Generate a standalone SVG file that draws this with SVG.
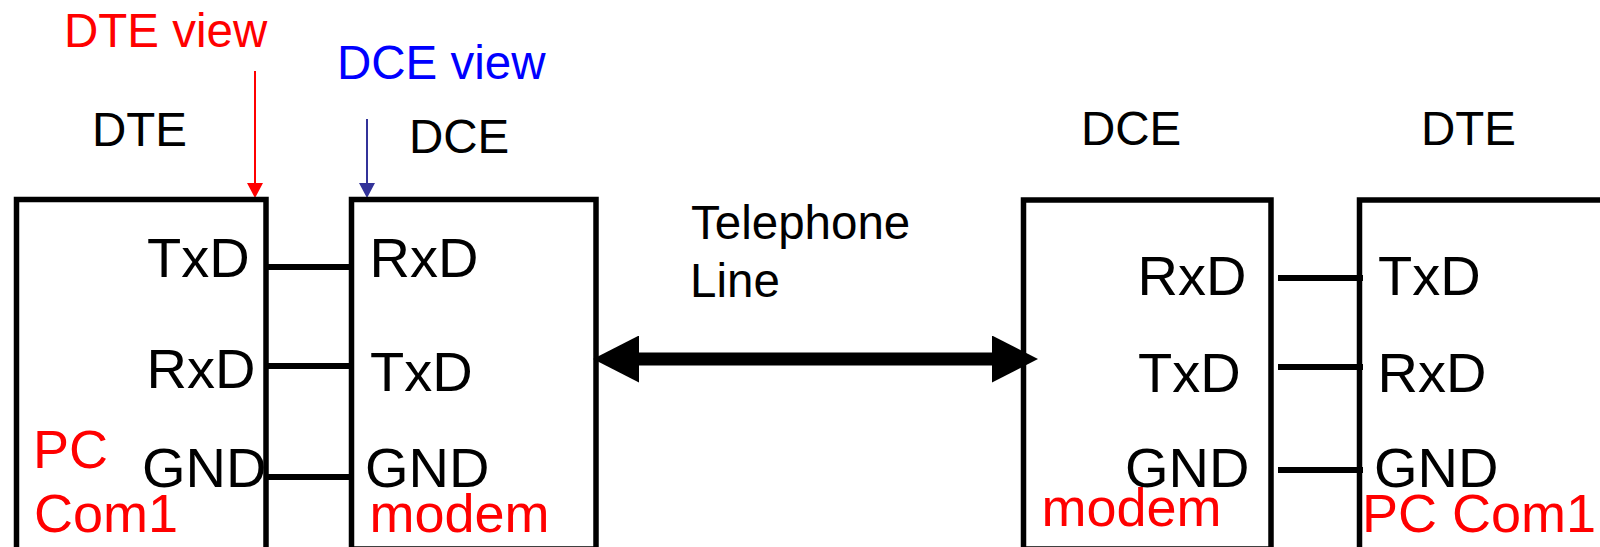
<svg xmlns="http://www.w3.org/2000/svg" width="1600" height="547" viewBox="0 0 1600 547">
  <style>
    text { font-family: "Liberation Sans", Arial, sans-serif; }
    .head { font-size: 47.5px; fill: #000; }
    .pin { font-size: 56px; fill: #000; }
    .dev { font-size: 54px; fill: #ff0000; }
    .box { fill: none; stroke: #000; stroke-width: 5.5; }
    .wire { stroke: #000; stroke-width: 6; }
  </style>
  <defs>
    <marker id="bigHead" viewBox="0 0 46 47" refX="26" refY="23.5" markerWidth="46" markerHeight="47" markerUnits="userSpaceOnUse" orient="auto-start-reverse">
      <path d="M0,0 L46,23.5 L0,47 Z" fill="#000"/>
    </marker>
    <marker id="redHead" viewBox="0 0 15 16" refX="3" refY="8" markerWidth="15" markerHeight="16" markerUnits="userSpaceOnUse" orient="auto">
      <path d="M0,0 L15,8 L0,16 Z" fill="#ff0000"/>
    </marker>
    <marker id="blueHead" viewBox="0 0 15 16" refX="3" refY="8" markerWidth="15" markerHeight="16" markerUnits="userSpaceOnUse" orient="auto">
      <path d="M0,0 L15,8 L0,16 Z" fill="#333399"/>
    </marker>
  </defs>

  <!-- view annotations -->
  <g id="dte-view">
    <text x="64" y="47" font-size="47.5" fill="#ff0000">DTE view</text>
    <line x1="255" y1="71" x2="255" y2="186" stroke="#ff0000" stroke-width="2" marker-end="url(#redHead)"/>
  </g>
  <g id="dce-view">
    <text x="337" y="79" font-size="47.5" fill="#0000ff">DCE view</text>
    <line x1="367" y1="119" x2="367" y2="186" stroke="#333399" stroke-width="2" marker-end="url(#blueHead)"/>
  </g>

  <!-- local PC -->
  <g id="pc-left">
    <text class="head" x="92" y="146">DTE</text>
    <rect class="box" x="16.5" y="199.5" width="249.5" height="370"/>
    <text class="pin" x="147" y="277">TxD</text>
    <text class="pin" x="146.6" y="388">RxD</text>
    <text class="pin" x="142" y="487">GND</text>
    <text class="dev" x="33" y="468">PC</text>
    <text class="dev" x="34" y="532">Com1</text>
  </g>

  <!-- local modem -->
  <g id="modem-left">
    <text class="head" x="409" y="153">DCE</text>
    <rect class="box" x="351.5" y="199.5" width="244.5" height="349.5"/>
    <text class="pin" x="369.6" y="277">RxD</text>
    <text class="pin" x="370" y="391">TxD</text>
    <text class="pin" x="365" y="487">GND</text>
    <text class="dev" x="369.5" y="532">modem</text>
  </g>

  <!-- remote modem -->
  <g id="modem-right">
    <text class="head" x="1081" y="145">DCE</text>
    <rect class="box" x="1023.5" y="200" width="247.5" height="349"/>
    <text class="pin" x="1137.6" y="295">RxD</text>
    <text class="pin" x="1138" y="392">TxD</text>
    <text class="pin" x="1125" y="487">GND</text>
    <text class="dev" x="1041.5" y="526">modem</text>
  </g>

  <!-- remote PC -->
  <g id="pc-right">
    <text class="head" x="1421" y="145">DTE</text>
    <rect class="box" x="1359.5" y="200" width="300" height="370"/>
    <text class="pin" x="1378" y="295">TxD</text>
    <text class="pin" x="1377.6" y="392">RxD</text>
    <text class="pin" x="1374" y="487">GND</text>
    <text class="dev" x="1362" y="532">PC Com1</text>
  </g>

  <!-- telephone line label -->
  <g id="phone-label">
    <text class="head" x="691" y="239">Telephone</text>
    <text class="head" x="690" y="297">Line</text>
  </g>

  <!-- wiring -->
  <g id="connectors">
    <line class="wire" x1="266" y1="267" x2="351.5" y2="267"/>
    <line class="wire" x1="266" y1="366" x2="351.5" y2="366"/>
    <line class="wire" x1="266" y1="477" x2="351.5" y2="477"/>
    <line class="wire" x1="1278" y1="278" x2="1363" y2="278"/>
    <line class="wire" x1="1278" y1="367" x2="1363" y2="367"/>
    <line class="wire" x1="1278" y1="470" x2="1363" y2="470"/>
    <line x1="613" y1="359" x2="1018" y2="359" stroke="#000" stroke-width="13" marker-start="url(#bigHead)" marker-end="url(#bigHead)"/>
  </g>
</svg>
